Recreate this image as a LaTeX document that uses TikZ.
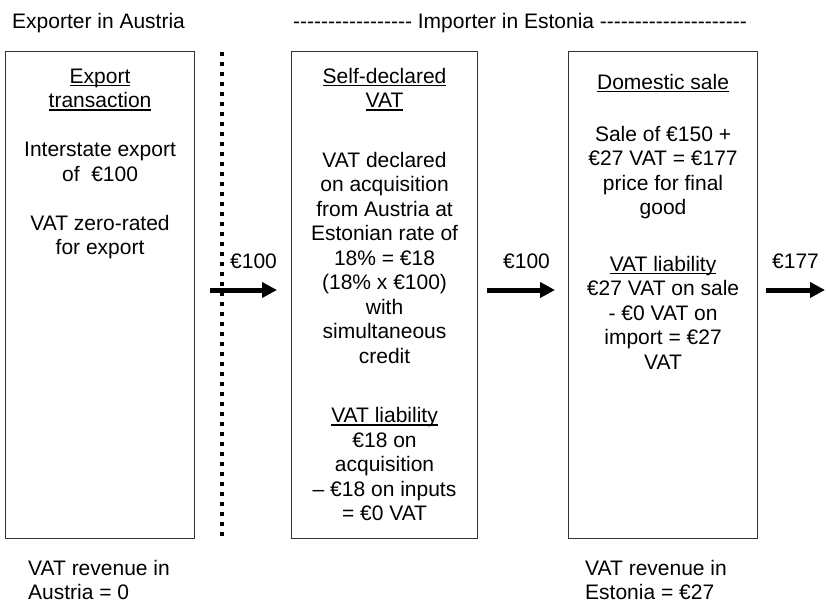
\documentclass[tikz,border=0pt]{standalone}
\usepackage{fontspec}
\setmainfont{Liberation Sans}[Ligatures=TeXOff]
\usetikzlibrary{arrows.meta}
\newsavebox\ulbox
\newcommand\ulx[1]{\sbox\ulbox{#1}\rlap{\rule[-3pt]{\wd\ulbox}{1.3pt}}\usebox\ulbox}
\newcommand\fs{\rule{0pt}{16pt}}
\begin{document}
\begin{tikzpicture}[x=1pt,y=-1pt,
  box/.style={draw=black!80, line width=1.1pt, minimum width=189pt, minimum height=487pt, anchor=north west, inner sep=0},
  txt/.style={font=\fontsize{21}{24.5}\selectfont, align=center, inner sep=0, anchor=north},
  lefttxt/.style={font=\fontsize{21}{24.5}\selectfont, align=left, inner sep=0, anchor=north west},
  lbl/.style={font=\fontsize{21}{24.5}\selectfont, inner sep=0, anchor=base west},
  flow/.style={line width=5pt, -{Triangle[length=15pt,width=15pt]}},
  dotline/.style={line width=4pt, dash pattern=on 4pt off 6pt}
]
\useasboundingbox (0,0) rectangle (826,608);

% headers
\node[lbl] (h1) at (12,28) {Exporter in Austria};
\node[lbl] (h2) at (293,28) {----------------- Importer in Estonia ---------------------};

% boxes
\node[box] (b1) at (5,51) {};
\node[box, minimum width=186pt] (b2) at (291,51) {};
\node[box] (b3) at (568,51) {};

% box texts
\node[txt] (t1) at (b1.north |- 0,67) {\fs\ulx{Export}\\ \ulx{transaction}\\[24.5pt] Interstate export\\ of~~€100\\[24.5pt] VAT zero-rated\\ for export};
\node[txt] (t2) at (b2.north |- 0,67) {\fs\ulx{Self-declared}\\ \ulx{VAT}\\[35pt] VAT declared\\ on acquisition\\ from Austria at\\ Estonian rate of\\ 18\% = €18\\ (18\% x €100)\\ with\\ simultaneous\\ credit\\[35pt] \ulx{VAT liability}\\ €18 on\\ acquisition\\ – €18 on inputs\\ = €0 VAT};
\node[txt] (t3) at (b3.north |- 0,73) {\fs\ulx{Domestic sale}\\[27.5pt] Sale of €150 +\\ €27 VAT = €177\\ price for final\\ good\\[32pt] \ulx{VAT liability}\\ €27 VAT on sale\\ - €0 VAT on\\ import = €27\\ VAT};

% dotted border line
\coordinate (d1) at (222,52);
\coordinate (d2) at (222,540);
\draw[dotline] (d1) -- (d2);

% arrows
\coordinate (a1s) at (210,290);
\coordinate (a1e) at (277,290);
\coordinate (a2s) at (487,290);
\coordinate (a2e) at (555,290);
\coordinate (a3s) at (766,290);
\coordinate (a3e) at (825,290);
\draw[flow] (a1s) -- (a1e);
\draw[flow] (a2s) -- (a2e);
\draw[flow] (a3s) -- (a3e);
\node[lbl] (l1) at (230,268) {€100};
\node[lbl] (l2) at (503,268) {€100};
\node[lbl] (l3) at (772,268) {€177};

% bottom notes
\node[lefttxt] (r1) at (28,559) {\fs VAT revenue in\\ Austria = 0};
\node[lefttxt] (r2) at (585,559) {\fs VAT revenue in\\ Estonia = €27};
\end{tikzpicture}
\end{document}
